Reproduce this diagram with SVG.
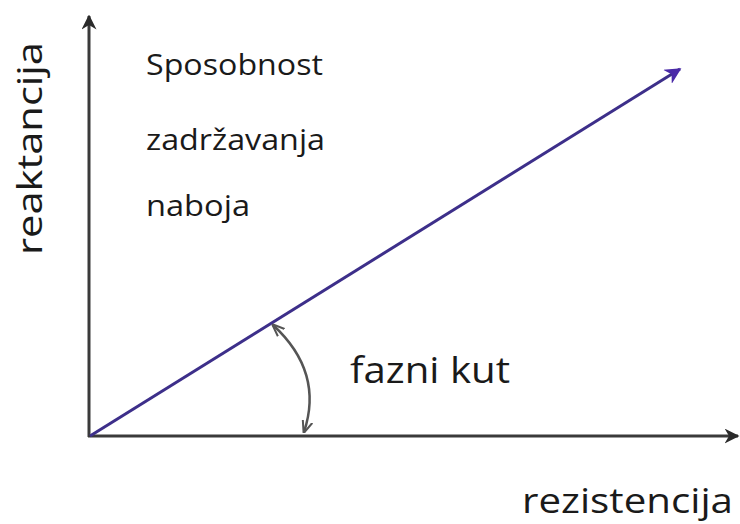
<svg xmlns="http://www.w3.org/2000/svg" width="740" height="524" viewBox="0 0 740 524">
<defs>
<style>
text{font-family:"Open Sans","Noto Sans","DejaVu Sans",sans-serif;fill:#1a1a1a}
.ax{stroke:#3a3a3a;stroke-width:3;fill:none}
.vec{stroke:#3d2f8a;stroke-width:3;fill:none}
.arc{stroke:#555;stroke-width:2.5;fill:none}
</style>
<marker id="ah" viewBox="0 0 10 10" refX="9" refY="5" markerWidth="5" markerHeight="5" orient="auto" markerUnits="strokeWidth"><path d="M0,0 L10,5 L0,10 L3,5 Z" fill="#2a2a2a"/></marker>
<marker id="ahv" viewBox="0 0 10 10" refX="9" refY="5" markerWidth="5.5" markerHeight="5.5" orient="auto" markerUnits="strokeWidth"><path d="M0,0 L10,5 L0,10 L3,5 Z" fill="#4a2aa8"/></marker>
<marker id="ahs" viewBox="0 0 10 10" refX="9" refY="5" markerWidth="5" markerHeight="5" orient="auto-start-reverse" markerUnits="strokeWidth"><path d="M0,1 L10,5 L0,9" fill="none" stroke="#555" stroke-width="1.6"/></marker>
</defs>
<g id="connectors">
<line class="ax" x1="89" y1="437" x2="89" y2="16" marker-end="url(#ah)"/>
<line class="ax" x1="88" y1="436" x2="738" y2="436" marker-end="url(#ah)"/>
<line class="vec" x1="90" y1="436" x2="680" y2="69" marker-end="url(#ahv)"/>
<path class="arc" d="M273,325 Q324,372 304,432" marker-start="url(#ahs)" marker-end="url(#ahs)"/>
</g>
<g id="labels">
<text x="42" y="148.5" font-size="35" text-anchor="middle" textLength="213" lengthAdjust="spacingAndGlyphs" transform="rotate(-90 42 148.5)">reaktancija</text>
<text x="522" y="513" font-size="35" textLength="211" lengthAdjust="spacingAndGlyphs">rezistencija</text>
<text x="146" y="75" font-size="29" textLength="177" lengthAdjust="spacingAndGlyphs">Sposobnost</text>
<text x="146" y="150" font-size="29" textLength="179" lengthAdjust="spacingAndGlyphs">zadržavanja</text>
<text x="146" y="216" font-size="29" textLength="104" lengthAdjust="spacingAndGlyphs">naboja</text>
<text x="350" y="383" font-size="37" textLength="160" lengthAdjust="spacingAndGlyphs">fazni kut</text>
</g>
</svg>
